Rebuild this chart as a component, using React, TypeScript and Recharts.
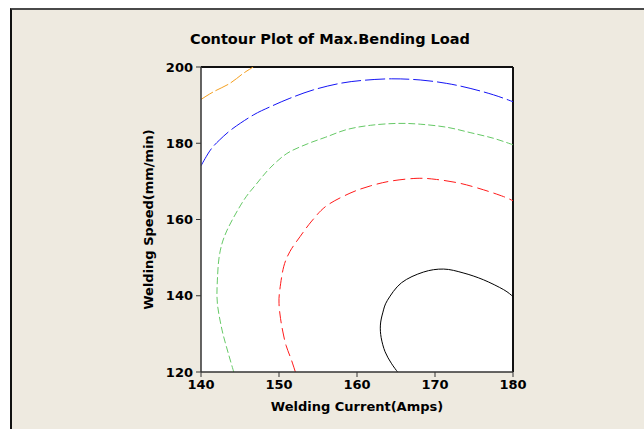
import React from 'react';
import { ComposedChart, Line, XAxis, YAxis, CartesianGrid, ReferenceLine } from 'recharts';

// Contour traces of the fitted Max. Bending Load surface: [current (Amps), speed (mm/min)]
const contourInner: number[][] = [
  [165.2, 120], [164.4, 122.3], [163.6, 125.3], [163.1, 129], [163.0, 132.3], [163.3, 135.5],
  [163.9, 138.8], [165.7, 143.4], [168.5, 146.2], [171.1, 147.0], [173.6, 146.0], [176.2, 144.2],
  [178.8, 141.6], [180, 139.8],
];
const contourRed: number[][] = [
  [152.1, 120], [151.6, 123.1], [150.9, 127], [150.5, 130.5], [150.2, 134], [150.0, 138],
  [150.1, 141.5], [150.6, 147.6], [151.4, 151.6], [152.7, 155.5], [154.2, 159.6], [156.1, 163.6],
  [159.1, 166.9], [161.7, 168.8], [164.4, 170.1], [167.7, 170.8], [170.2, 170.5], [173.2, 169.5],
  [176.2, 167.8], [178.8, 166.0], [180, 164.9],
];
const contourGreen: number[][] = [
  [144.2, 120], [143.5, 124.9], [142.7, 131.0], [142.1, 138.0], [142.1, 144.1], [142.4, 151.1],
  [143.3, 157.0], [145.4, 164.8], [147.1, 169.3], [148.8, 173.4], [151.0, 177.3], [153.6, 179.8],
  [156.0, 181.6], [158.7, 183.6], [161.7, 184.7], [165.1, 185.2], [168.1, 185.0], [171.5, 184.2],
  [174.5, 182.8], [177.5, 181.3], [180, 179.6],
];
const contourBlue: number[][] = [
  [140, 174.1], [141.2, 178.2], [142.4, 180.9], [144.1, 183.9], [146.7, 187.4], [148.8, 189.5],
  [151.4, 191.8], [154.4, 194.0], [157.8, 195.7], [160.8, 196.5], [164.4, 196.9], [168.1, 196.6],
  [171.5, 195.7], [174.5, 194.4], [177.5, 192.7], [180, 190.9],
];
const contourOrange: number[][] = [
  [140, 191.5], [141.6, 193.5], [143.7, 195.7], [145.4, 198.3], [146.7, 200],
];

const xTicks = [140, 150, 160, 170, 180];
const yTicks = [120, 140, 160, 180, 200];

const toRows = (pts: number[][]) => pts.map(([amps, speed]) => ({ amps, speed }));

// Catmull-Rom curve factory: passes through every traced point without the
// global overshoot of a natural spline on unevenly spaced points.
const catmullRom = (context: any) => {
  let pts: [number, number][] = [];
  return {
    areaStart() {},
    areaEnd() {},
    lineStart() {
      pts = [];
    },
    lineEnd() {
      if (!pts.length) return;
      context.moveTo(pts[0][0], pts[0][1]);
      for (let i = 0; i < pts.length - 1; i++) {
        const p0 = pts[i - 1] || pts[i];
        const p1 = pts[i];
        const p2 = pts[i + 1];
        const p3 = pts[i + 2] || p2;
        context.bezierCurveTo(
          p1[0] + (p2[0] - p0[0]) / 6, p1[1] + (p2[1] - p0[1]) / 6,
          p2[0] - (p3[0] - p1[0]) / 6, p2[1] - (p3[1] - p1[1]) / 6,
          p2[0], p2[1],
        );
      }
    },
    point(x: number, y: number) {
      pts.push([+x, +y]);
    },
  };
};

const FONT = '"DejaVu Sans", Verdana, sans-serif';
const tickStyle = { fill: '#000', fontSize: 13, fontWeight: 'bold', fontFamily: FONT };

const series = [
  { name: 'inner', data: contourInner, color: '#000000', dash: undefined },
  { name: 'red', data: contourRed, color: '#FF1A1A', dash: '12 5' },
  { name: 'green', data: contourGreen, color: '#66C966', dash: '7 3' },
  { name: 'blue', data: contourBlue, color: '#1414F5', dash: '20 4' },
  { name: 'orange', data: contourOrange, color: '#F5A020', dash: '14 3' },
];

const XTitle = (props: any) => {
  const vb = props.viewBox || { x: 201, y: 372, width: 312, height: 57 };
  return (
    <text x={vb.x + vb.width / 2} y={vb.y + 39} textAnchor="middle" fill="#000"
      fontSize={13} fontWeight="bold" fontFamily={FONT}>
      Welding Current(Amps)
    </text>
  );
};

const YTitle = (props: any) => {
  const vb = props.viewBox || { x: 0, y: 67, width: 201, height: 305 };
  const x = vb.x + 153;
  const y = vb.y + vb.height / 2;
  return (
    <text x={x} y={y} transform={`rotate(-90, ${x}, ${y})`} textAnchor="middle" fill="#000"
      fontSize={13} fontWeight="bold" fontFamily={FONT}>
      Welding Speed(mm/min)
    </text>
  );
};

export default function App() {
  return (
    <div style={{ position: 'absolute', left: 0, top: 0, width: 644, height: 429, background: '#fff', overflow: 'hidden' }}>
      <div style={{
        position: 'absolute', left: 10, top: 8, width: 660, height: 440, background: '#EEEAE0',
        borderTop: '2px solid #4a4a4a', borderLeft: '2px solid #111',
      }} />
      <div style={{
        position: 'absolute', left: 130, top: 29, width: 400, textAlign: 'center',
        fontFamily: FONT, fontWeight: 'bold', fontSize: 14.5, color: '#000', lineHeight: '20px',
      }}>
        Contour Plot of Max.Bending Load
      </div>
      <div style={{ position: 'absolute', left: 0, top: 0 }}>
        <ComposedChart width={644} height={429} margin={{ top: 67, right: 131, bottom: 0, left: 0 }}>
          <CartesianGrid horizontal={false} vertical={false} fill="#ffffff" stroke="none" />
          <XAxis dataKey="amps" type="number" domain={[140, 180]} ticks={xTicks} allowDataOverflow
            height={57} tickSize={5} tickMargin={3} tick={tickStyle}
            axisLine={{ stroke: '#333', strokeWidth: 1.5 }} tickLine={{ stroke: '#333' }}
            label={{ content: XTitle }} />
          <YAxis dataKey="speed" type="number" domain={[120, 200]} ticks={yTicks} allowDataOverflow
            width={201} tickSize={5} tickMargin={3} tick={tickStyle}
            axisLine={{ stroke: '#333', strokeWidth: 1.5 }} tickLine={{ stroke: '#333' }}
            label={{ content: YTitle }} />
          <ReferenceLine y={200} stroke="#111" strokeWidth={2} />
          <ReferenceLine x={180} stroke="#111" strokeWidth={2} />
          {series.map((s) => (
            <Line key={s.name} data={toRows(s.data)} dataKey="speed" type={catmullRom as any}
              stroke={s.color} strokeWidth={1} strokeDasharray={s.dash}
              dot={false} activeDot={false} isAnimationActive={false} />
          ))}
        </ComposedChart>
      </div>
    </div>
  );
}
